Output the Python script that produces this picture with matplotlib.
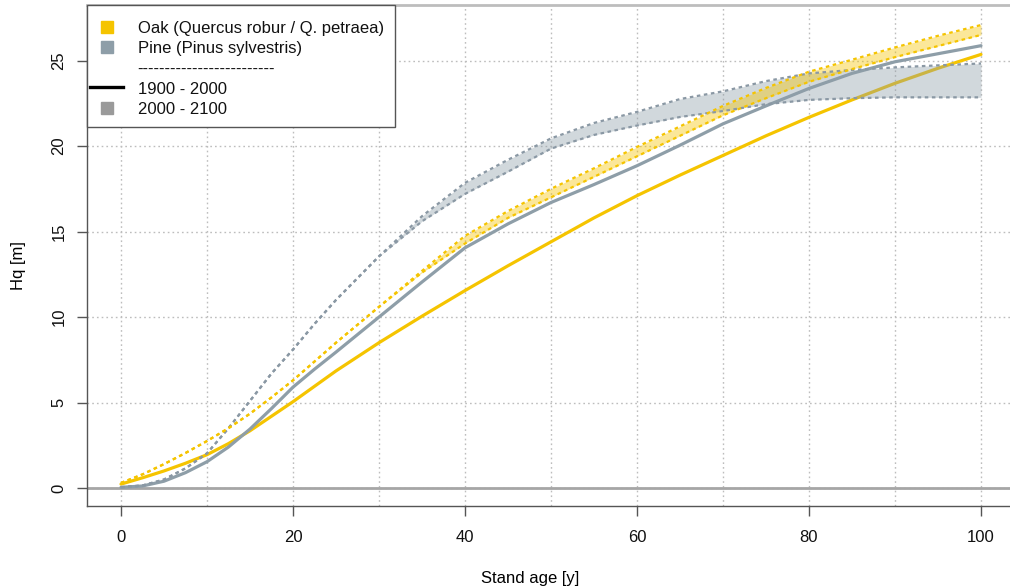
import matplotlib
matplotlib.use("Agg")
import matplotlib.pyplot as plt
from matplotlib.patches import Rectangle
from matplotlib.lines import Line2D

plt.rcParams['font.family'] = ['Liberation Sans', 'DejaVu Sans']

# ---- data ----
age = [0, 2.5, 5, 7.5, 10, 12.5, 15, 17.5, 20, 22.5, 25, 30, 35, 40, 45, 50, 55, 60, 65,
       70, 75, 80, 85, 90, 95, 100]

oak_hist = [0.23, 0.6, 1.0, 1.45, 1.95, 2.6, 3.35, 4.2, 5.05, 5.95, 6.85, 8.5, 10.05, 11.55,
            13.0, 14.4, 15.8, 17.1, 18.3, 19.45, 20.6, 21.68, 22.7, 23.67, 24.55, 25.36]
pine_hist = [0.04, 0.12, 0.4, 0.9, 1.54, 2.4, 3.45, 4.65, 5.9, 6.95, 7.95, 10.0, 12.05, 14.05,
             15.45, 16.7, 17.75, 18.85, 20.05, 21.3, 22.35, 23.37, 24.25, 24.93, 25.4, 25.87]

oak_fut_lo = [0.3, 0.8, 1.4, 2.05, 2.75, 3.5, 4.35, 5.3, 6.3, 7.4, 8.5, 10.6, 12.6, 14.3,
              15.8, 17.0, 18.2, 19.4, 20.6, 21.8, 22.8, 23.76, 24.5, 25.2, 25.85, 26.5]
oak_fut_hi = [0.3, 0.8, 1.4, 2.05, 2.75, 3.5, 4.35, 5.3, 6.3, 7.4, 8.5, 10.6, 12.7, 14.75,
              16.2, 17.5, 18.7, 19.95, 21.15, 22.35, 23.4, 24.35, 25.05, 25.77, 26.45, 27.08]
pine_fut_lo = [0.05, 0.15, 0.5, 1.15, 2.03, 3.5, 5.1, 6.7, 8.1, 9.6, 11.0, 13.55, 15.6, 17.2,
               18.5, 19.85, 20.65, 21.2, 21.7, 22.05, 22.45, 22.7, 22.8, 22.85, 22.85, 22.85]
pine_fut_hi = [0.05, 0.15, 0.5, 1.15, 2.03, 3.5, 5.1, 6.7, 8.1, 9.6, 11.0, 13.55, 15.9, 17.85,
               19.2, 20.45, 21.35, 22.0, 22.75, 23.2, 23.8, 24.25, 24.45, 24.6, 24.72, 24.83]

x_ticks = [0, 20, 40, 60, 80, 100]
y_ticks = [0, 5, 10, 15, 20, 25]
x_grid = [0, 10, 20, 30, 40, 50, 60, 70, 80, 90, 100]

legend_labels = ["Oak (Quercus robur / Q. petraea)", "Pine (Pinus sylvestris)",
                 "-------------------------", "1900 - 2000", "2000 - 2100"]

# ---- style ----
OAK = "#F5C400"
PINE = "#8E9EA8"
PINE_DASH = "#8A98A4"
GRID = "#BDBDBD"
AXC = "#555555"
FS = 12

W, H = 1010, 587
fig = plt.figure(figsize=(W / 100, H / 100), dpi=100)
xlim = (-4.0, 104.0)
ylim = (-1.05, 28.25)
left_px, bottom_px, top_px = 86.6, 506, 5
ax_w_px = 8.6 * (xlim[1] - xlim[0])
ax = fig.add_axes([left_px / W, (H - bottom_px) / H, ax_w_px / W, (bottom_px - top_px) / H])
ax.set_xlim(*xlim)
ax.set_ylim(*ylim)

# grid
for gx in x_grid:
    ax.axvline(gx, color=GRID, lw=1.0, ls=(0, (1.2, 2.2)), zorder=1)
for gy in y_ticks:
    ax.axhline(gy, color=GRID, lw=1.0, ls=(0, (1.2, 2.2)), zorder=1)
ax.axhline(0, color="#A6A6A6", lw=2.0, zorder=2)

# historical lines
ax.plot(age, oak_hist, color=OAK, lw=2.3, zorder=3, solid_capstyle='round', solid_joinstyle='round')
ax.plot(age, pine_hist, color=PINE, lw=2.3, zorder=3, solid_capstyle='round', solid_joinstyle='round')

# future bands
ax.fill_between(age, pine_fut_lo, pine_fut_hi, color=PINE, alpha=0.4, lw=0, zorder=4)
ax.plot(age, pine_fut_lo, color=PINE_DASH, lw=1.6, ls=(0, (1.6, 1.6)), zorder=5)
ax.plot(age, pine_fut_hi, color=PINE_DASH, lw=1.6, ls=(0, (1.6, 1.6)), zorder=5)
ax.fill_between(age, oak_fut_lo, oak_fut_hi, color=OAK, alpha=0.4, lw=0, zorder=4)
ax.plot(age, oak_fut_lo, color=OAK, lw=1.6, ls=(0, (1.6, 1.6)), zorder=5)
ax.plot(age, oak_fut_hi, color=OAK, lw=1.6, ls=(0, (1.6, 1.6)), zorder=5)

# spines / ticks
for s in ['left', 'bottom']:
    ax.spines[s].set_color(AXC)
    ax.spines[s].set_linewidth(1.0)
ax.spines['right'].set_visible(False)
ax.spines['top'].set_color("#BDBDBD")
ax.spines['top'].set_linewidth(2.0)

ax.set_xticks(x_ticks)
ax.set_yticks(y_ticks)
ax.set_xticklabels([str(v) for v in x_ticks])
ax.set_yticklabels([str(v) for v in y_ticks], rotation=90, va='center')
ax.tick_params(axis='both', direction='out', length=7.5, width=1.0, color=AXC,
               labelsize=FS, labelcolor="#111111")
ax.tick_params(axis='x', pad=9.5)
ax.tick_params(axis='y', pad=7)

fig.text(530 / W, 1 - 578 / H, "Stand age [y]", ha='center', va='center', fontsize=FS)
fig.text(18 / W, 1 - 266 / H, "Hq [m]", ha='center', va='center', rotation=90, fontsize=FS)

# legend (drawn in figure pixel space)
def fx(px):
    return px / W

def fy(py):
    return 1 - py / H

fig.patches.append(Rectangle((fx(87), fy(127)), fx(395) - fx(87), fy(5) - fy(127),
                             transform=fig.transFigure, facecolor='white', edgecolor=AXC,
                             lw=1.0, zorder=20))
row_y = [26.7, 46.8, 67.5, 87.5, 107.5]
sq_colors = [OAK, PINE, None, None, "#9A9A9A"]
for i, (lab, c) in enumerate(zip(legend_labels, sq_colors)):
    yy = fy(row_y[i])
    if c is not None:
        fig.lines.append(Line2D([fx(107.3)], [yy], transform=fig.transFigure, ls='none',
                                marker='s', ms=8, color=c, zorder=21))
    if i == 3:
        fig.lines.append(Line2D([fx(90), fx(123)], [yy, yy], transform=fig.transFigure,
                                color='black', lw=2.4, zorder=21))
    fig.text(fx(137.5), fy(row_y[i] + 1.5), lab, ha='left', va='center', fontsize=FS,
             color="#111111", zorder=22)

fig.savefig("out.png", dpi=100)
